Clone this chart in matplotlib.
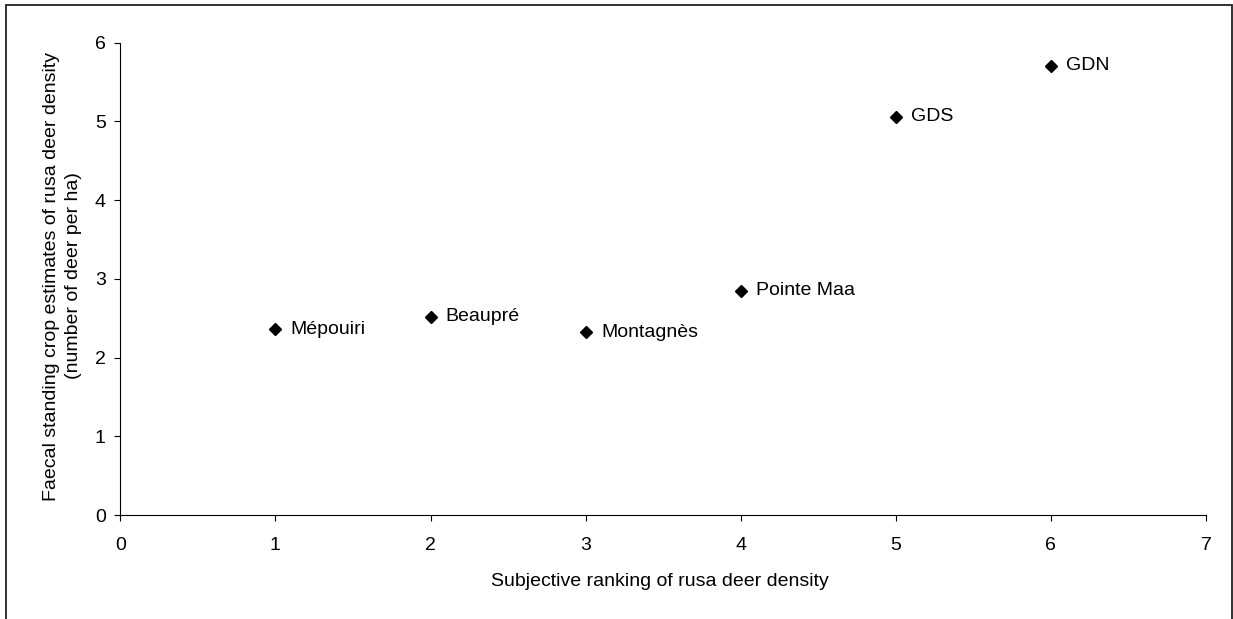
import matplotlib

matplotlib.use("Agg")
import matplotlib.pyplot as plt
from matplotlib.patches import Rectangle

plt.rcParams["font.family"] = ["Liberation Sans", "DejaVu Sans"]

# subjective ranking vs faecal standing crop estimate
sites = ["Mépouiri", "Beaupré", "Montagnès", "Pointe Maa", "GDS", "GDN"]
ranking = [1, 2, 3, 4, 5, 6]
density = [2.36, 2.52, 2.32, 2.85, 5.06, 5.71]

x_ticks = [0, 1, 2, 3, 4, 5, 6, 7]
y_ticks = [0, 1, 2, 3, 4, 5, 6]

FS = 14

fig = plt.figure(figsize=(12.33, 6.19), dpi=100)
ax = fig.add_axes([0.0976, 0.168, 0.8805, 0.763])

ax.plot(ranking, density, linestyle="none", marker="D", markersize=6.5,
        color="black", markeredgecolor="black")
for name, x, y in zip(sites, ranking, density):
    ax.annotate(name, (x, y), xytext=(11, 0), textcoords="offset points",
                va="center", ha="left", fontsize=FS)

ax.set_xlim(0, 7)
ax.set_ylim(0, 6)
ax.set_xticks(x_ticks)
ax.set_yticks(y_ticks)
ax.tick_params(axis="both", direction="out", length=4.5, width=0.8, labelsize=FS)
ax.tick_params(axis="x", pad=11)
ax.tick_params(axis="y", pad=6)
for side in ["top", "right"]:
    ax.spines[side].set_visible(False)
for side in ["left", "bottom"]:
    ax.spines[side].set_linewidth(0.8)

ax.set_xlabel("Subjective ranking of rusa deer density", fontsize=FS)
ax.set_ylabel("Faecal standing crop estimates of rusa deer density\n(number of deer per ha)",
              fontsize=FS, linespacing=1.4)
ax.xaxis.set_label_coords(0.497, -0.123)
ax.yaxis.set_label_coords(-0.035, 0.506)

# chart area border, cut off at the bottom like the source
fig.patches.append(Rectangle((0.0046, -0.05), 0.9943, 1.042, transform=fig.transFigure,
                             fill=False, edgecolor="#222222", linewidth=1.3))

fig.savefig("out.png", dpi=100)
